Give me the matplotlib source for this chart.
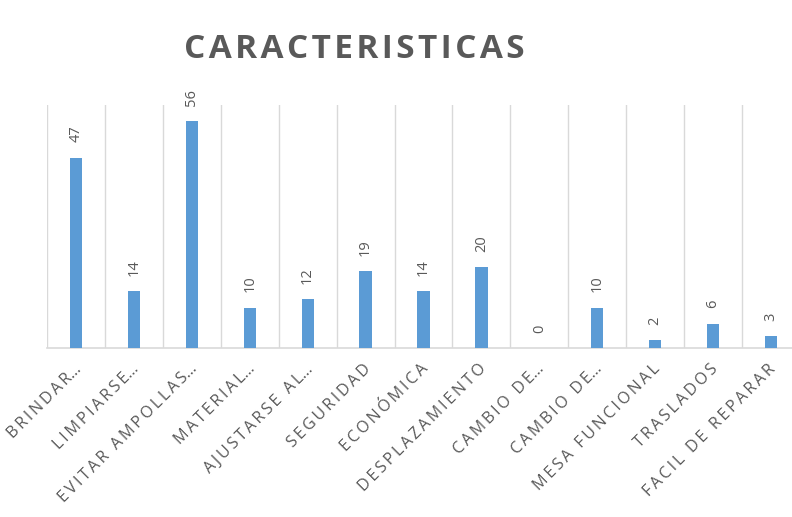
import matplotlib.pyplot as plt
import matplotlib.transforms as mtransforms
import numpy as np

# datos
categorias = ["BRINDAR…", "LIMPIARSE…", "EVITAR AMPOLLAS…", "MATERIAL…",
              "AJUSTARSE AL…", "SEGURIDAD", "ECONÓMICA", "DESPLAZAMIENTO",
              "CAMBIO DE…", "CAMBIO DE…", "MESA FUNCIONAL", "TRASLADOS",
              "FACIL DE REPARAR"]
valores = [47, 14, 56, 10, 12, 19, 14, 20, 0, 10, 2, 6, 3]
titulo = "CARACTERISTICAS"

gris = "#595959"
plt.rcParams['font.family'] = ['Open Sans', 'DejaVu Sans']


def espaciar(s, sep):
    # separa letras para imitar el espaciado de Excel
    return sep.join(s).replace(sep + "…", "…")


fig = plt.figure(figsize=(7.92, 5.17), dpi=100)
ax = fig.add_axes([47/792, 1 - 348/517, (800 - 47)/792, (348 - 105)/517])

x = np.arange(len(categorias))
bars = ax.bar(x, valores, width=0.21, color="#5B9BD5", zorder=3)

ax.set_xlim(-0.5, len(categorias) - 0.5)
ax.set_ylim(0, 60)

# lineas verticales entre categorias
for b in np.arange(-0.5, len(categorias), 1.0):
    ax.axvline(b, color="#D9D9D9", lw=1, zorder=1)

for s in ["top", "right", "left"]:
    ax.spines[s].set_visible(False)
ax.spines["bottom"].set_color("#D9D9D9")
ax.spines["bottom"].set_linewidth(1.2)
ax.set_yticks([])

ax.set_xticks(x)
ax.set_xticklabels([espaciar(c, "\u2009") for c in categorias],
                   rotation=45, ha="right", va="top",
                   rotation_mode="anchor", fontsize=11.6, color=gris)
ax.tick_params(axis="x", length=0, pad=9.5)
desplaza = mtransforms.ScaledTranslation(-3/100, 0, fig.dpi_scale_trans)
for lab in ax.get_xticklabels():
    lab.set_transform(lab.get_transform() + desplaza)

for rect, v in zip(bars, valores):
    ax.annotate(str(v), (rect.get_x() + rect.get_width() / 2, v),
                xytext=(0, 11), textcoords="offset points",
                ha="center", va="bottom", rotation=90,
                fontsize=10.5, color=gris)

fig.text(354/792, 1 - 50/517, espaciar(titulo, "\u200a"),
         ha="center", va="center",
         fontsize=24, fontweight="bold", color=gris)

fig.savefig("out.png", dpi=100)
